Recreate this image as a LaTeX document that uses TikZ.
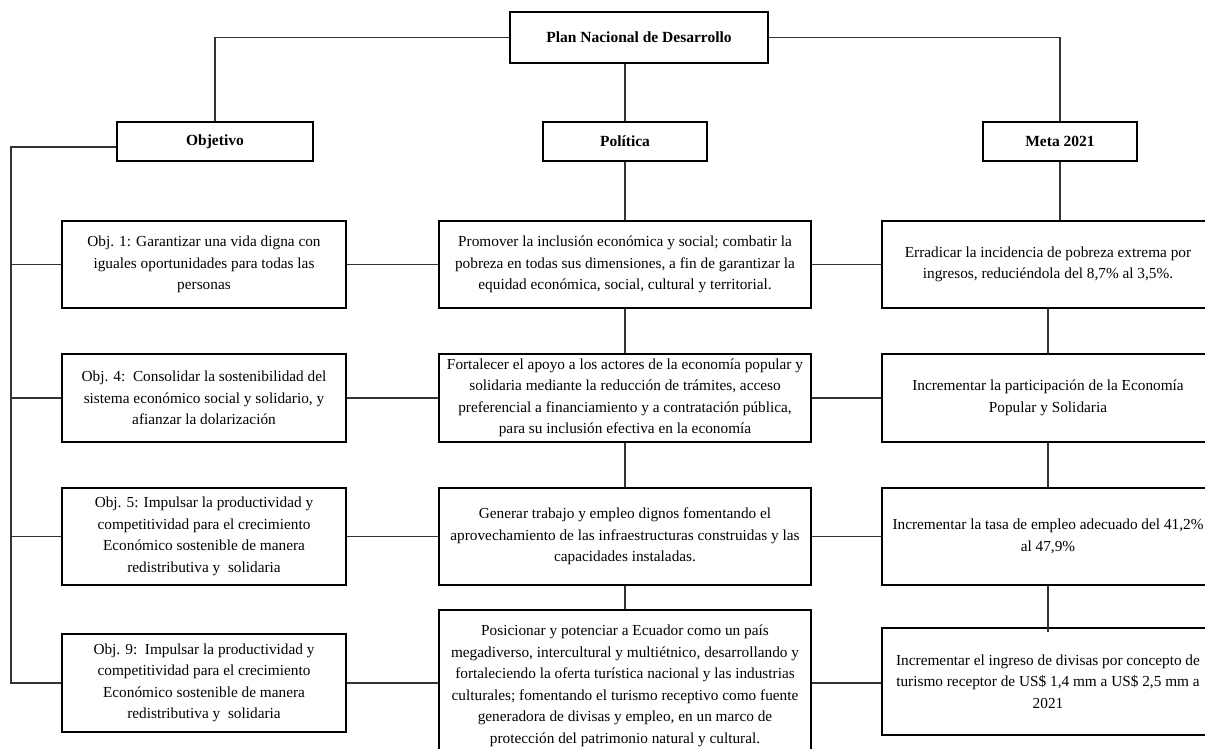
\documentclass[tikz,border=0pt]{standalone}
\usepackage{fontspec}
\setmainfont{Liberation Serif}
\begin{document}
\begin{tikzpicture}[x=1bp,y=-1bp,
  box/.style={draw=black, line width=1.1bp, rectangle, inner sep=2bp, align=center,
    font=\fontsize{15.3bp}{21.5bp}\selectfont},
  head/.style={box, font=\fontsize{15.5bp}{18bp}\selectfont\bfseries},
  conn/.style={draw=black!80, line width=1.25bp}]
\useasboundingbox (0,0) rectangle (1205,749);
\clip (0,0) rectangle (1205,749);
% headers
\node[head, minimum width=258bp, minimum height=51bp] (plan) at (639,37.5) {Plan Nacional de Desarrollo};
\node[head, minimum width=196bp, minimum height=39bp] (obj) at (215,141.5) {Objetivo};
\node[head, minimum width=164bp, minimum height=39bp] (pol) at (625,141.5) {Política};
\node[head, minimum width=154bp, minimum height=39bp] (meta) at (1060,141.5) {Meta 2021};
% objetivos
\node[box, minimum width=284bp, minimum height=87bp] (o1) at (204,264.5) {Obj. 1: Garantizar una vida digna con\\ iguales oportunidades para todas las\\ personas};
\node[box, minimum width=284bp, minimum height=88bp] (o2) at (204,398) {Obj. 4:\ \ Consolidar la sostenibilidad del\\ sistema económico social y solidario, y\\ afianzar la dolarización};
\node[box, minimum width=284bp, minimum height=97bp] (o3) at (204,536.5) {Obj. 5: Impulsar la productividad y\\ competitividad para el crecimiento\\ Económico sostenible de manera\\ redistributiva y\ \ solidaria};
\node[box, minimum width=284bp, minimum height=98bp] (o4) at (204,683) {Obj. 9:\ \ Impulsar la productividad y\\ competitividad para el crecimiento\\ Económico sostenible de manera\\ redistributiva y\ \ solidaria};
% politicas
\node[box, minimum width=372bp, minimum height=87bp] (p1) at (625,264.5) {Promover la inclusión económica y social; combatir la\\ pobreza en todas sus dimensiones, a fin de garantizar la\\ equidad económica, social, cultural y territorial.};
\node[box, minimum width=372bp, minimum height=88bp] (p2) at (625,398) {Fortalecer el apoyo a los actores de la economía popular y\\ solidaria mediante la reducción de trámites, acceso\\ preferencial a financiamiento y a contratación pública,\\ para su inclusión efectiva en la economía};
\node[box, minimum width=372bp, minimum height=97bp] (p3) at (625,536.5) {Generar trabajo y empleo dignos fomentando el\\ aprovechamiento de las infraestructuras construidas y las\\ capacidades instaladas.};
\node[box, minimum width=372bp, minimum height=152bp] (p4) at (625,686) {Posicionar y potenciar a Ecuador como un país\\ megadiverso, intercultural y multiétnico, desarrollando y\\ fortaleciendo la oferta turística nacional y las industrias\\ culturales; fomentando el turismo receptivo como fuente\\ generadora de divisas y empleo, en un marco de\\ protección del patrimonio natural y cultural.};
% metas
\node[box, minimum width=332bp, minimum height=87bp] (m1) at (1048,264.5) {Erradicar la incidencia de pobreza extrema por\\ ingresos, reduciéndola del 8,7\% al 3,5\%.};
\node[box, minimum width=332bp, minimum height=88bp] (m2) at (1048,398) {Incrementar la participación de la Economía\\ Popular y Solidaria};
\node[box, minimum width=332bp, minimum height=97bp] (m3) at (1048,536.5) {Incrementar la tasa de empleo adecuado del 41,2\%\\ al 47,9\%};
\node[box, minimum width=332bp, minimum height=107bp] (m4) at (1048,681.5) {Incrementar el ingreso de divisas por concepto de\\ turismo receptor de US\$ 1,4 mm a US\$ 2,5 mm a\\ 2021};
% connectors
\draw[conn] (plan.west) -| (obj.north);
\draw[conn] (plan.east) -| (meta.north);
\draw[conn] (plan.south -| pol.north) -- (pol.north);
\coordinate (sp) at (11,147);
\draw[conn] (obj.west |- sp) -- (sp) -- (sp |- o4.west) -- (o4.west);
\foreach \n in {o1,o2,o3} \draw[conn] (sp |- \n.west) -- (\n.west);
\foreach \i in {1,2,3} {
  \draw[conn] (o\i.east) -- (p\i.west);
  \draw[conn] (p\i.east) -- (m\i.west);
}
\draw[conn] (o4.east) -- (o4.east -| p4.west);
\draw[conn] (o4.east -| p4.east) -- (o4.east -| m4.west);
\draw[conn] (pol.south) -- (p1.north);
\draw[conn] (p1.south) -- (p2.north);
\draw[conn] (p2.south) -- (p3.north);
\draw[conn] (p3.south) -- (p4.north);
\draw[conn] (meta.south) -- (meta.south |- m1.north);
\draw[conn] (m1.south) -- (m2.north);
\draw[conn] (m2.south) -- (m3.north);
\draw[conn] (m3.south) -- ([yshift=-5bp]m4.north);
\end{tikzpicture}
\end{document}
